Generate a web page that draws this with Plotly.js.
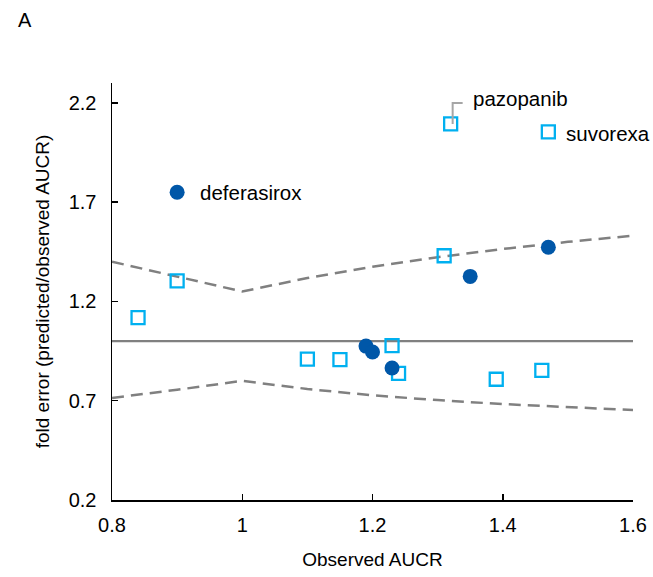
<!DOCTYPE html>
<html>
<head>
<meta charset="utf-8">
<script src="https://cdn.plot.ly/plotly-3.0.1.min.js"></script>
<style>html,body{margin:0;padding:0;background:#fff;}#chart{width:653px;height:577px;}</style>
</head>
<body>
<div id="chart"></div>
<script>
// Filled circles (dark blue)
const circleX = [0.90, 1.19, 1.20, 1.23, 1.35, 1.47];
const circleY = [1.75, 0.975, 0.945, 0.865, 1.326, 1.473];
// Open squares (light blue)
const squareX = [0.84, 0.90, 1.10, 1.15, 1.23, 1.24, 1.31, 1.39, 1.46, 1.32, 1.47];
const squareY = [1.118, 1.304, 0.909, 0.907, 0.977, 0.838, 1.43, 0.808, 0.853, 2.094, 2.054];
// Limit curves
const limitX = [0.8, 0.9, 1.0, 1.1, 1.2, 1.3, 1.4, 1.5, 1.6];
const upperY = [1.40, 1.325, 1.25, 1.318, 1.375, 1.423, 1.464, 1.50, 1.531];
const lowerY = [0.714, 0.755, 0.80, 0.759, 0.727, 0.703, 0.683, 0.667, 0.653];
const unityX = [0.8, 1.6];
const unityY = [1.0, 1.0];
// Labelled points
const labels = [
  {text: 'deferasirox', x: 0.90, y: 1.75, xshift: 21, yshift: 0},
  {text: 'pazopanib', x: 1.32, y: 2.094, xshift: 20, yshift: 25},
  {text: 'suvorexa', x: 1.47, y: 2.054, xshift: 16, yshift: -2}
];
const xTicks = [0.8, 1, 1.2, 1.4, 1.6];
const yTicks = [0.2, 0.7, 1.2, 1.7, 2.2];

const FONT = 'Liberation Sans, Arial, sans-serif';
const traces = [
  {x: limitX, y: upperY, mode: 'lines', line: {color: '#808080', width: 2.5, dash: '12px,7px'}, hoverinfo: 'skip'},
  {x: limitX, y: lowerY, mode: 'lines', line: {color: '#808080', width: 2.5, dash: '12px,7px'}, hoverinfo: 'skip'},
  {x: unityX, y: unityY, mode: 'lines', line: {color: '#808080', width: 2.2}, hoverinfo: 'skip'},
  {x: squareX, y: squareY, mode: 'markers', marker: {symbol: 'square-open', size: 13, color: '#00B0F0', line: {width: 2.3, color: '#00B0F0'}}},
  {x: circleX, y: circleY, mode: 'markers', marker: {symbol: 'circle', size: 15, color: '#0057A8'}}
];

const annotations = labels.map(l => ({
  text: l.text, x: l.x, y: l.y, xref: 'x', yref: 'y', xanchor: 'left', yanchor: 'middle',
  xshift: l.xshift, yshift: l.yshift, showarrow: false, font: {family: FONT, size: 20.5, color: '#000'}
}));
annotations.push({text: 'A', xref: 'paper', yref: 'paper', x: -0.184, y: 1.151, xanchor: 'left', yanchor: 'middle',
  showarrow: false, font: {family: FONT, size: 20, color: '#000'}});

const paz = labels[1];
const layout = {
  width: 653, height: 577,
  margin: {l: 112, r: 20, t: 83, b: 77},
  paper_bgcolor: '#fff', plot_bgcolor: '#fff',
  showlegend: false,
  font: {family: FONT, size: 19, color: '#000'},
  xaxis: {
    range: [0.8, 1.6], tickvals: xTicks, ticktext: xTicks.map(String),
    showgrid: false, zeroline: false, showline: true, linecolor: '#000', linewidth: 1.5,
    ticks: 'inside', ticklen: 6, tickwidth: 1.5, tickcolor: '#000',
    tickfont: {size: 20}, ticklabelstandoff: 6,
    title: {text: 'Observed AUCR', font: {size: 19}, standoff: 18}
  },
  yaxis: {
    range: [0.2, 2.3], tickvals: yTicks, ticktext: yTicks.map(String),
    showgrid: false, zeroline: false, showline: true, linecolor: '#000', linewidth: 1.5,
    ticks: 'inside', ticklen: 6, tickwidth: 1.5, tickcolor: '#000',
    tickfont: {size: 20}, ticklabelstandoff: 10,
    title: {text: 'fold error (predicted/observed AUCR)', font: {size: 19}, standoff: 14}
  },
  shapes: [{
    type: 'path', xref: 'x', yref: 'y', xsizemode: 'pixel', ysizemode: 'pixel',
    xanchor: paz.x, yanchor: paz.y, path: 'M 2 0 L 2 21 L 12 21',
    line: {color: '#A6A6A6', width: 2}
  }],
  annotations: annotations
};
Plotly.newPlot('chart', traces, layout, {displayModeBar: false, staticPlot: true});
</script>
</body>
</html>
